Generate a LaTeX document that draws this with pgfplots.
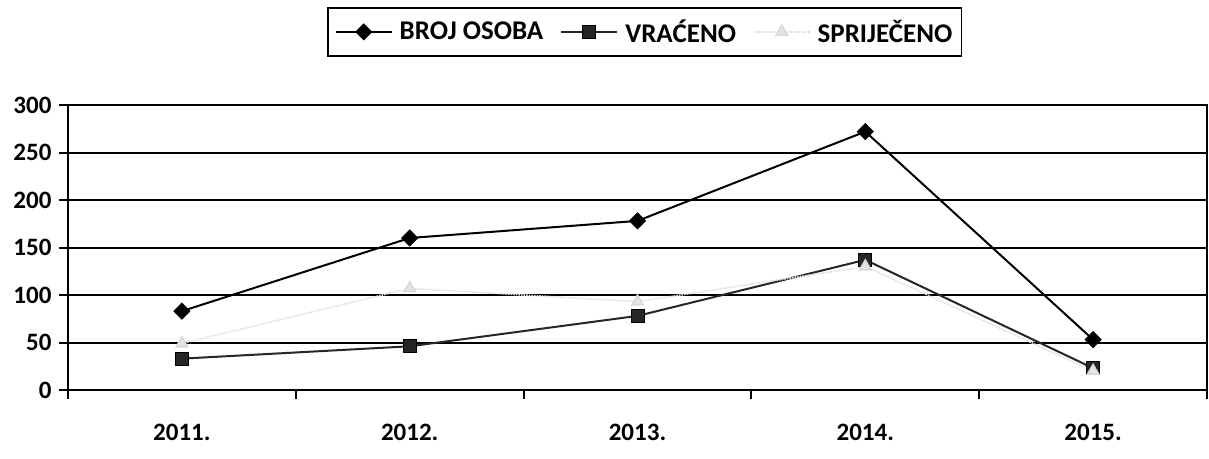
\documentclass[border=0pt]{standalone}
\usepackage{fontspec}
\setmainfont{Carlito}
\usepackage{pgfplots}
\pgfplotsset{compat=1.18}
\begin{document}
\begin{tikzpicture}
\begin{axis}[
  scale only axis, width=1139pt, height=285pt,
  xmin=-0.5, xmax=4.5, ymin=0, ymax=300,
  xtick={-0.5,0.5,1.5,2.5,3.5,4.5},
  x tick label as interval,
  xticklabels={2011.,2012.,2013.,2014.,2015.},
  ytick={0,50,100,150,200,250,300},
  ymajorgrids,
  major grid style={black, line width=2pt},
  axis line style={black, line width=2pt},
  tick align=outside, tick pos=left,
  major tick length=9pt,
  tick style={black, line width=2pt},
  ticklabel style={font=\fontsize{25}{29}\selectfont\bfseries},
  /pgf/number format/assume math mode=true,
  xticklabel style={yshift=-22pt},
  yticklabel style={xshift=-4pt},
  clip=false,
  legend columns=3,
  legend style={at={(rel axis cs:0.5062,1)}, anchor=north, yshift=98pt,
    draw=black, line width=1.6pt, font=\fontsize{27}{31}\selectfont\bfseries,
    inner xsep=7pt, inner ysep=10pt,
    /tikz/every even column/.append style={column sep=15pt},
    /tikz/every odd column/.append style={column sep=5pt}},
  legend image code/.code={\draw[mark repeat=2,mark phase=2] plot coordinates {(0pt,0pt) (28pt,0pt) (56pt,0pt)};},
]
\addplot[black, line width=2pt, mark=square*, mark size=5.8pt, mark options={rotate=45, fill=black, line width=0.5pt}]
  coordinates {(0,83) (1,160) (2,178) (3,272) (4,53)};
\addlegendentry{BROJ OSOBA}
\addplot[black!85, line width=2pt, mark=square*, mark size=6.5pt, mark options={fill=gray!30!black, draw=black, line width=0.8pt}]
  coordinates {(0,33) (1,46) (2,78) (3,137) (4,23)};
\addlegendentry{VRAĆENO}
\addplot[gray!25, line width=1.6pt, densely dotted, mark=triangle*, mark size=6.5pt, mark options={solid, fill=gray!20, draw=gray!30}]
  coordinates {(0,49) (1,107) (2,93) (3,130) (4,20)};
\addlegendentry{SPRIJEČENO}
\coordinate (sw) at (rel axis cs:0,0);
\end{axis}
\pgfresetboundingbox
\path[use as bounding box] (sw) ++(-68pt,-68pt) rectangle ++(1209pt,458pt);
\end{tikzpicture}
\end{document}
